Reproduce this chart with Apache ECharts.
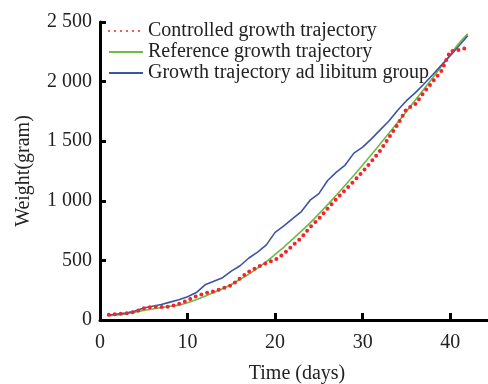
<!DOCTYPE html>
<html><head><meta charset="utf-8">
<script src="https://cdn.jsdelivr.net/npm/echarts@6/dist/echarts.min.js"></script>
<style>html,body{margin:0;padding:0;background:#fff}#c{width:488px;height:384px}</style>
</head><body><div id="c"></div>
<script>
const days = [1,2,3,4,5,6,7,8,9,10,11,12,13,14,15,16,17,18,19,20,21,22,23,24,25,26,27,28,29,30,31,32,33,34,35,36,37,38,39,40,41,42];
const controlled = [45,50,55,68,98,112,108,112,135,165,200,225,240,265,290,350,405,445,478,505,555,625,690,780,850,935,1015,1090,1165,1245,1330,1420,1530,1640,1770,1810,1910,2000,2090,2255,2265,2285];
const reference = [35,42,52,65,80,92,104,115,125,145,170,200,230,262,298,340,385,435,490,550,612,678,745,815,890,968,1048,1130,1214,1300,1388,1477,1567,1658,1750,1843,1937,2032,2128,2225,2322,2400];
const adLibitum = [42,50,58,75,100,115,130,150,170,195,230,295,325,355,410,455,520,570,630,735,790,850,910,1005,1060,1170,1240,1300,1400,1450,1520,1595,1670,1760,1840,1905,1980,2058,2138,2218,2300,2385];
const seriesNames = ['Controlled growth trajectory','Reference growth trajectory','Growth trajectory ad libitum group'];
const xTicks = [0,10,20,30,40];
const yTicks = [0,500,1000,1500,2000,2500];

const pairs = v => days.map((d,i)=>[d,v[i]]);
const font = '"Liberation Serif","Times New Roman",serif';
const fmt = v => { const s = String(v); return s.length>3 ? s.slice(0,-3)+' '+s.slice(-3) : s; };

const chart = echarts.init(document.getElementById('c'));
chart.setOption({
  animation:false,
  backgroundColor:'#fff',
  grid:{left:100,right:-6,top:22,bottom:64,containLabel:false,outerBoundsMode:'none'},
  legend:{
    orient:'vertical', left:103, top:16, itemWidth:34, itemHeight:14, itemGap:1,
    itemStyle:{opacity:0},
    textStyle:{fontFamily:font,fontSize:20,color:'#222',lineHeight:20,padding:[0,0,0,0]},
    data:seriesNames
  },
  xAxis:{
    type:'value', min:0, max:45, interval:10,
    name:'Time (days)', nameLocation:'middle', nameGap:44,
    nameTextStyle:{fontFamily:font,fontSize:20,color:'#222'},
    axisLine:{show:true,onZero:false,lineStyle:{color:'#000000',width:3}},
    axisTick:{show:true,inside:true,length:7,lineStyle:{color:'#000000',width:3}},
    axisLabel:{fontFamily:font,fontSize:20,color:'#222',margin:13,showMaxLabel:false},
    splitLine:{show:false}
  },
  yAxis:{
    type:'value', min:0, max:2500, interval:500,
    name:'Weight(gram)', nameLocation:'middle', nameGap:66,
    nameTextStyle:{fontFamily:font,fontSize:20,color:'#222'},
    axisLine:{show:true,onZero:false,lineStyle:{color:'#000000',width:3}},
    axisTick:{show:true,inside:true,length:6,lineStyle:{color:'#000000',width:3}},
    axisLabel:{fontFamily:font,fontSize:20,color:'#222',margin:8,formatter:fmt},
    splitLine:{show:false}
  },
  series:[
    {name:seriesNames[0],type:'line',data:pairs(controlled),symbol:'none',z:5,
     itemStyle:{color:'#f5232a'},
     lineStyle:{color:'#f5232a',width:4,type:[0,6],cap:'round'}},
    {name:seriesNames[1],type:'line',data:pairs(reference),symbol:'none',smooth:0.3,z:3,
     itemStyle:{color:'#6cbd45'},
     lineStyle:{color:'#6cbd45',width:1.6}},
    {name:seriesNames[2],type:'line',data:pairs(adLibitum),symbol:'none',z:4,
     itemStyle:{color:'#3d54a5'},
     lineStyle:{color:'#3d54a5',width:1.6}}
  ]
});
</script></body></html>
